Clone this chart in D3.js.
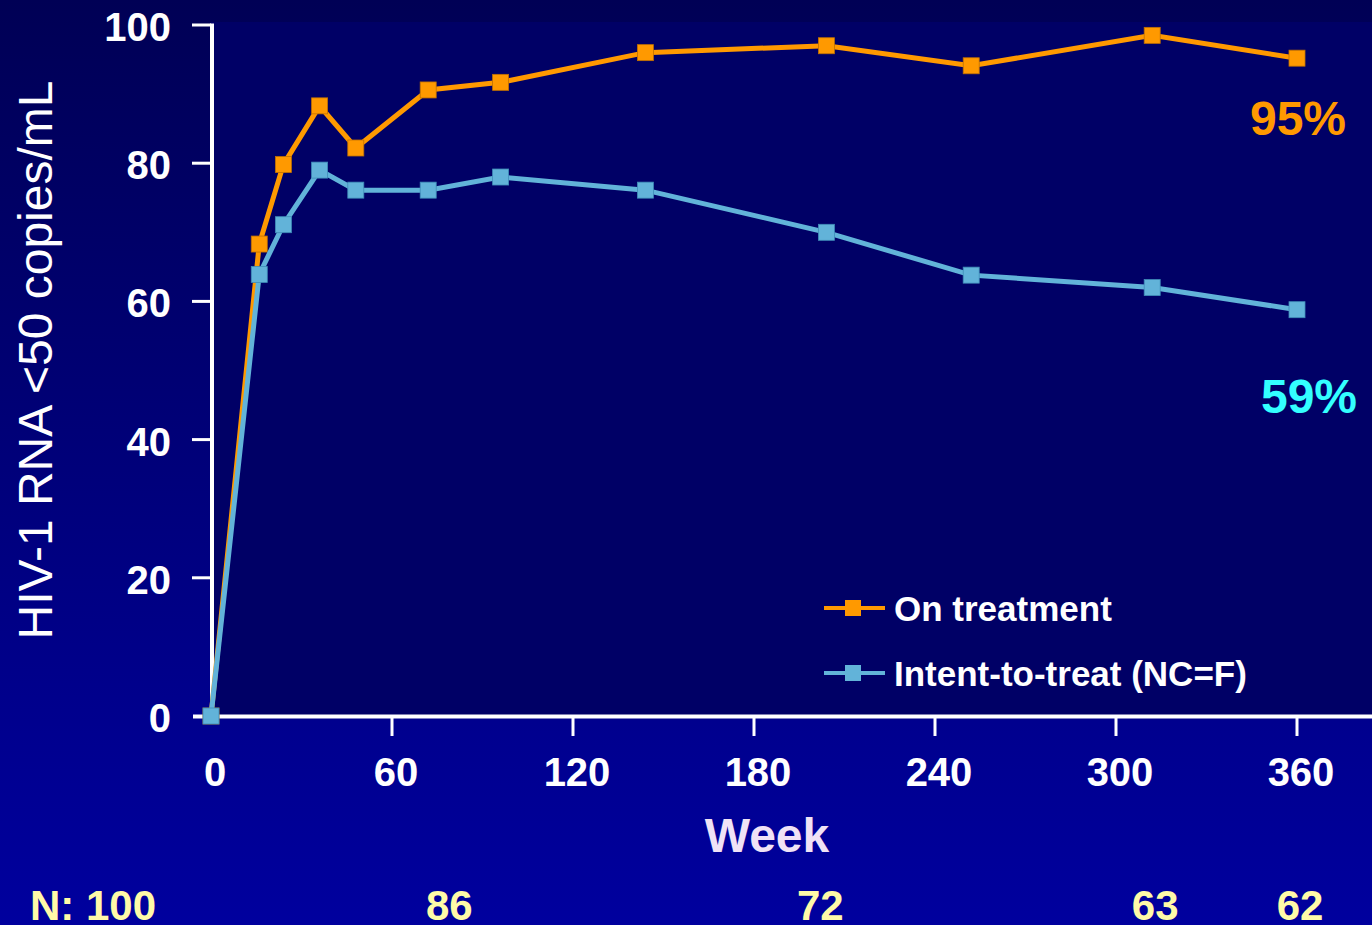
<!DOCTYPE html>
<html>
<head>
<meta charset="utf-8">
<script src="https://cdn.jsdelivr.net/npm/d3@7"></script>
<style>
html,body{margin:0;padding:0;overflow:hidden;background:#000070;}
svg{display:block;font-family:"Liberation Sans",Arial,Helvetica,sans-serif;}
</style>
</head>
<body>
<svg id="chart" width="1372" height="925"></svg>
<script>
// ---- data ----
const weeks = [0, 16, 24, 36, 48, 72, 96, 144, 204, 252, 312, 360];
const onTreatment = [0, 68.3, 79.8, 88.3, 82.2, 90.6, 91.7, 96.0, 97.0, 94.1, 98.5, 95.2];
const intentToTreat = [0, 63.9, 71.1, 79.0, 76.1, 76.1, 78.0, 76.1, 70.0, 63.8, 62.0, 58.8];
const seriesNames = ["On treatment", "Intent-to-treat (NC=F)"];
const xTicks = [0, 60, 120, 180, 240, 300, 360];
const yTicks = [0, 20, 40, 60, 80, 100];
const endLabels = ["95%", "59%"];
const nLabels = ["N: 100", "86", "72", "63", "62"];
const nWeeks = [null, 79, 202, 313, 361];

// ---- layout ----
const W = 1372, H = 925;
const svg = d3.select("#chart");
const x = d3.scaleLinear().domain([0, 360]).range([211, 1297]);
const y = d3.scaleLinear().domain([0, 100]).range([716, 25]);
const colors = ["#ff9900", "#62b3d9"];
const markerStroke = ["#c07000", "#3f8cb8"];

// background gradient
const defs = svg.append("defs");
const grad = defs.append("linearGradient").attr("id", "bg").attr("x1", 0).attr("y1", 0).attr("x2", 0).attr("y2", 1);
grad.append("stop").attr("offset", "0%").attr("stop-color", "#000055");
grad.append("stop").attr("offset", "100%").attr("stop-color", "#00009e");
svg.append("rect").attr("width", W).attr("height", H).attr("fill", "url(#bg)");

// plot area
svg.append("rect")
  .attr("x", x(0)).attr("y", 22)
  .attr("width", W - x(0)).attr("height", y(0) - 22)
  .attr("fill", "#000066");

// axes
const axisG = svg.append("g").attr("stroke", "#ffffff");
axisG.append("line").attr("x1", x(0) + 1).attr("x2", x(0) + 1).attr("y1", y(100) - 1.5).attr("y2", y(0))
  .attr("stroke-width", 4);
axisG.append("line").attr("x1", 193).attr("x2", W).attr("y1", y(0) + 0.5).attr("y2", y(0) + 0.5)
  .attr("stroke-width", 4);
axisG.selectAll(".yt").data(yTicks.filter(d => d > 0)).join("line")
  .attr("x1", 192).attr("x2", x(0)).attr("y1", d => y(d)).attr("y2", d => y(d))
  .attr("stroke-width", 3);
axisG.selectAll(".xt").data(xTicks.filter(d => d > 0)).join("line")
  .attr("x1", d => x(d)).attr("x2", d => x(d)).attr("y1", y(0)).attr("y2", y(0) + 20)
  .attr("stroke-width", 3);

// tick labels
svg.selectAll(".ytl").data(yTicks).join("text")
  .attr("x", 171).attr("y", d => y(d) + 16)
  .attr("text-anchor", "end").attr("fill", "#fff")
  .attr("font-size", 40).attr("font-weight", "bold")
  .text(d => d);
svg.selectAll(".xtl").data(xTicks).join("text")
  .attr("x", d => x(d) + 4).attr("y", 786)
  .attr("text-anchor", "middle").attr("fill", "#fff")
  .attr("font-size", 40).attr("font-weight", "bold")
  .text(d => d);

// axis titles
svg.append("text")
  .attr("transform", "translate(52,360) rotate(-90)")
  .attr("text-anchor", "middle").attr("fill", "#fff")
  .attr("font-size", 48)
  .text("HIV-1 RNA <50 copies/mL");
svg.append("text")
  .attr("x", 767).attr("y", 852)
  .attr("text-anchor", "middle").attr("fill", "#f0e2f6")
  .attr("font-size", 48).attr("font-weight", "bold")
  .text("Week");

// series
const allSeries = [onTreatment, intentToTreat];
const line = d3.line().x((d, i) => x(weeks[i])).y(d => y(d));
allSeries.forEach((vals, si) => {
  const g = svg.append("g");
  g.append("path").datum(vals).attr("d", line)
    .attr("fill", "none").attr("stroke", colors[si]).attr("stroke-width", 5)
    .attr("stroke-linejoin", "miter");
  g.selectAll("rect").data(vals).join("rect")
    .attr("x", (d, i) => x(weeks[i]) - 8).attr("y", d => y(d) - 8)
    .attr("width", 16).attr("height", 16)
    .attr("fill", colors[si]).attr("stroke", markerStroke[si]).attr("stroke-width", 0.8);
});

// end labels
svg.append("text").attr("x", 1298).attr("y", 135).attr("text-anchor", "middle")
  .attr("fill", "#ff9900").attr("font-size", 48).attr("font-weight", "bold").text(endLabels[0]);
svg.append("text").attr("x", 1309).attr("y", 413).attr("text-anchor", "middle")
  .attr("fill", "#33ffff").attr("font-size", 48).attr("font-weight", "bold").text(endLabels[1]);

// legend
const legY = [608, 673];
seriesNames.forEach((name, i) => {
  const g = svg.append("g");
  g.append("line").attr("x1", 824).attr("x2", 885).attr("y1", legY[i]).attr("y2", legY[i])
    .attr("stroke", colors[i]).attr("stroke-width", 4);
  g.append("rect").attr("x", 845).attr("y", legY[i] - 8).attr("width", 16).attr("height", 16)
    .attr("fill", colors[i]);
  g.append("text").attr("x", 894).attr("y", legY[i] + 13)
    .attr("fill", "#fff").attr("font-size", 35).attr("font-weight", "bold").text(name);
});

// N counts
svg.selectAll(".nl").data(nLabels).join("text")
  .attr("x", (d, i) => i === 0 ? 30 : x(nWeeks[i]))
  .attr("y", 920)
  .attr("text-anchor", (d, i) => i === 0 ? "start" : "middle")
  .attr("fill", "#fffaa8").attr("font-size", 42).attr("font-weight", "bold")
  .text(d => d);
</script>
</body>
</html>
